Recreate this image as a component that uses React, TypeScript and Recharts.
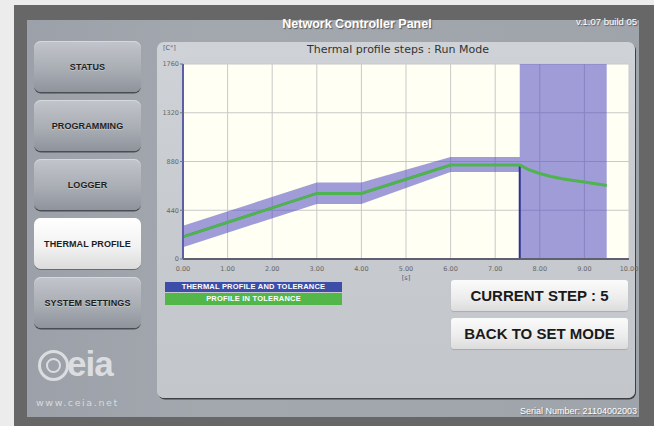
import React from 'react';
import { ComposedChart, Area, Line, XAxis, YAxis, CartesianGrid } from 'recharts';

const xTicks = [0, 1, 2, 3, 4, 5, 6, 7, 8, 9, 10];
const yTicks = [0, 440, 880, 1320, 1760];

const bandX = [0, 3, 4, 6, 7.55, 7.55, 9.5];
const bandLow = [106, 497, 497, 785, 785, 0, 0];
const bandHigh = [300, 691, 691, 920, 920, 1760, 1760];

const profileX = [0, 0, 3, 4, 6, 7.55, 7.55];
const profileT = [0, 200, 592, 592, 848, 848, 0];

const measuredX = [0, 3, 4, 6, 7.55, 7.75, 8, 8.25, 8.5, 8.75, 9, 9.25, 9.5];
const measuredT = [200, 592, 592, 848, 848, 806, 772, 745, 724, 708, 694, 679, 664];

const menuItems = ['STATUS', 'PROGRAMMING', 'LOGGER', 'THERMAL PROFILE', 'SYSTEM SETTINGS'];
const menuTops = [41, 100, 159, 218, 277];
const activeItem = 'THERMAL PROFILE';

const bandData = bandX.map((x, i) => ({ x, band: [bandLow[i], bandHigh[i]] }));
const profileData = profileX.map((x, i) => ({ x, t: profileT[i] }));
const measuredData = measuredX.map((x, i) => ({ x, m: measuredT[i] }));

const sans = '"Liberation Sans", Arial, sans-serif';
const dejavu = '"DejaVu Sans", Verdana, sans-serif';

function MenuButton({ label, top, active }: { label: string; top: number; active: boolean }) {
  return (
    <div
      style={{
        position: 'absolute',
        left: 34,
        top,
        width: 107,
        height: 51,
        borderRadius: 7,
        background: active
          ? 'linear-gradient(#ffffff, #f2f2f2 55%, #dcdcdc)'
          : 'linear-gradient(#c2c5cb, #a9adb4 55%, #8f949c)',
        boxShadow: active
          ? '0 1px 0 #6a6a6a, inset 0 1px 0 #ffffff'
          : '0 1.5px 0 #4a4d52, inset 0 1px 0 #d6d8dc',
        display: 'flex',
        alignItems: 'center',
        justifyContent: 'center',
        fontFamily: sans,
        fontWeight: 700,
        fontSize: 9,
        color: '#1e1e1e',
        textShadow: active ? 'none' : '0 1px 0 rgba(255,255,255,0.35)',
        letterSpacing: 0.1,
      }}
    >
      {label}
    </div>
  );
}

function BigButton({ label, top }: { label: string; top: number }) {
  return (
    <div
      style={{
        position: 'absolute',
        left: 451,
        top,
        width: 177,
        height: 31,
        borderRadius: 3,
        background: 'linear-gradient(#fbfbfb, #ececec 60%, #dcdcdc)',
        boxShadow: '0 1px 1px rgba(0,0,0,0.15)',
        display: 'flex',
        alignItems: 'center',
        justifyContent: 'center',
        fontFamily: sans,
        fontWeight: 700,
        fontSize: 15,
        color: '#1a1a1a',
      }}
    >
      {label}
    </div>
  );
}

export default function App() {
  return (
    <div style={{ position: 'absolute', left: 0, top: 0, width: 654, height: 426, background: '#ececec', overflow: 'hidden' }}>
      <div style={{ position: 'absolute', left: 14, top: 5, width: 640, height: 421, background: '#676767' }} />
      <div style={{ position: 'absolute', left: 27, top: 20, width: 612, height: 397, background: 'linear-gradient(90deg, #9ca0a8, #a3a7ae 30%, #9fa3aa)' }} />

      <div
        style={{
          position: 'absolute', left: 157, top: 17, width: 400, textAlign: 'center',
          fontFamily: sans, fontWeight: 700, fontSize: 12.5, color: '#ffffff',
          textShadow: '1px 1px 1px #555',
        }}
      >
        Network Controller Panel
      </div>
      <div
        style={{
          position: 'absolute', right: 17, top: 16, fontFamily: sans, fontSize: 9.5,
          color: '#ffffff', textShadow: '1px 1px 1px #555',
        }}
      >
        v.1.07 build 05
      </div>

      {menuItems.map((m, i) => (
        <MenuButton key={m} label={m} top={menuTops[i]} active={m === activeItem} />
      ))}

      <div style={{ position: 'absolute', left: 38, top: 350, width: 31, height: 31, borderRadius: 16, border: '3px solid #dcdde0', boxSizing: 'border-box' }} />
      <div style={{ position: 'absolute', left: 46, top: 358, width: 15, height: 15, borderRadius: 8, border: '2px solid #dcdde0', boxSizing: 'border-box' }} />
      <div
        style={{
          position: 'absolute', left: 67, top: 342, fontFamily: sans, fontWeight: 700,
          fontSize: 35, color: '#dcdde0', letterSpacing: -1, lineHeight: '44px',
        }}
      >
        eia
      </div>
      <div
        style={{
          position: 'absolute', left: 36, top: 397, fontFamily: dejavu, fontSize: 9.5,
          color: '#d9dadd', letterSpacing: 1.6,
        }}
      >
        www.ceia.net
      </div>
      <div
        style={{
          position: 'absolute', right: 17, top: 406, fontFamily: sans, fontSize: 9,
          color: '#ffffff', textShadow: '1px 1px 1px #666',
        }}
      >
        Serial Number: 21104002003
      </div>

      <div
        style={{
          position: 'absolute', left: 157, top: 42, width: 478, height: 356,
          borderRadius: 7, background: 'linear-gradient(#cfd2d6, #c7cacf 50%, #c3c6cb)',
          boxShadow: '1px 1.5px 0 #3e4044',
        }}
      />
      <div style={{ position: 'absolute', left: 163, top: 44, fontFamily: dejavu, fontSize: 6.5, color: '#555a80' }}>[C°]</div>
      <div
        style={{
          position: 'absolute', left: 183, top: 43, width: 430, textAlign: 'center',
          fontFamily: dejavu, fontSize: 11, color: '#333333',
        }}
      >
        Thermal profile steps : Run Mode
      </div>

      <div style={{ position: 'absolute', left: 157, top: 42 }}>
        <ComposedChart width={484} height={252} margin={{ top: 22, right: 12, bottom: 15, left: 6 }}>
          <CartesianGrid stroke="#c9c9c9" strokeWidth={1} fill="#fffff4" />
          <XAxis
            type="number"
            dataKey="x"
            domain={[0, 10]}
            ticks={xTicks}
            allowDuplicatedCategory={false}
            tickFormatter={(v: number) => v.toFixed(2)}
            tick={{ fontSize: 6.5, fill: '#666666', fontFamily: dejavu }}
            tickLine={false}
            tickMargin={1}
            axisLine={{ stroke: '#5e6070', strokeWidth: 2 }}
            height={20}
            label={{ value: '[s]', position: 'insideBottom', offset: -1, fontSize: 6.5, fill: '#555a80', fontFamily: dejavu }}
          />
          <YAxis
            type="number"
            domain={[0, 1760]}
            ticks={yTicks}
            tick={{ fontSize: 6.5, fill: '#666666', fontFamily: dejavu }}
            tickLine={{ stroke: '#777777' }}
            tickSize={3}
            tickMargin={1}
            axisLine={{ stroke: '#5a5fa8', strokeWidth: 2 }}
            width={20}
          />
          <Area
            data={bandData}
            dataKey="band"
            type="linear"
            fill="#524bc1"
            fillOpacity={0.55}
            stroke="none"
            isAnimationActive={false}
            activeDot={false}
          />
          <Line
            data={profileData}
            dataKey="t"
            type="linear"
            stroke="#2c348f"
            strokeWidth={2}
            dot={false}
            activeDot={false}
            isAnimationActive={false}
          />
          <Line
            data={measuredData}
            dataKey="m"
            type="linear"
            stroke="#4fb34f"
            strokeWidth={3}
            dot={false}
            activeDot={false}
            isAnimationActive={false}
          />
        </ComposedChart>
      </div>

      <div
        style={{
          position: 'absolute', left: 165, top: 282, width: 177, height: 10, background: '#3c4ea8',
          color: '#ffffff', fontFamily: sans, fontWeight: 700, fontSize: 7.5, lineHeight: '10px',
          textAlign: 'center', letterSpacing: 0.2,
        }}
      >
        THERMAL PROFILE AND TOLERANCE
      </div>
      <div
        style={{
          position: 'absolute', left: 165, top: 293, width: 177, height: 12, background: '#52b648',
          color: '#ffffff', fontFamily: sans, fontWeight: 700, fontSize: 7.5, lineHeight: '12px',
          textAlign: 'center', letterSpacing: 0.2,
        }}
      >
        PROFILE IN TOLERANCE
      </div>

      <BigButton label="CURRENT STEP : 5" top={280} />
      <BigButton label="BACK TO SET MODE" top={318} />
    </div>
  );
}
